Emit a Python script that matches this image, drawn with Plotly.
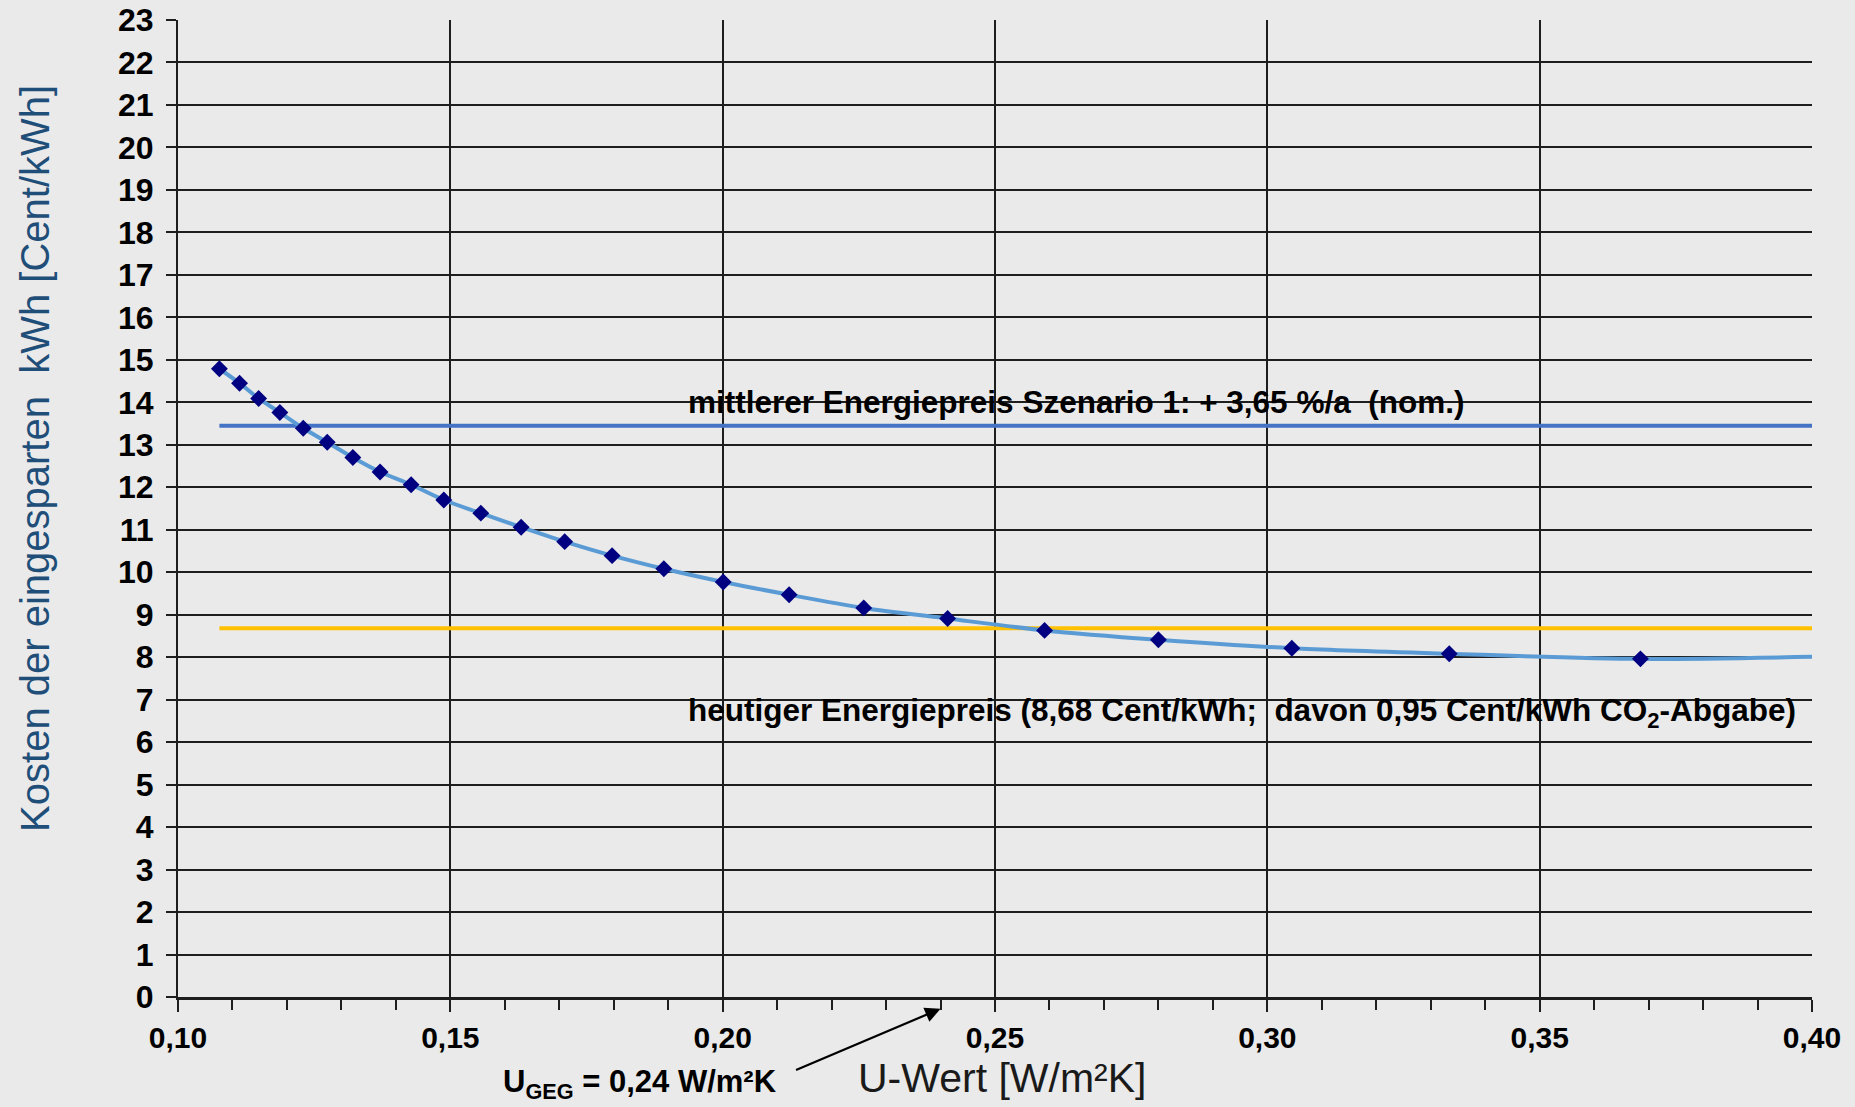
import plotly.graph_objects as go

# ---- data ----
u_values = [0.1076, 0.1113, 0.1148, 0.1187, 0.1230, 0.1274, 0.1321, 0.1371,
            0.1428, 0.1488, 0.1556, 0.1630, 0.1710, 0.1797, 0.1892, 0.2001,
            0.2122, 0.2259, 0.2413, 0.2591, 0.2800, 0.3045, 0.3334, 0.3685, 0.4120]
costs = [14.79, 14.45, 14.09, 13.76, 13.39, 13.06, 12.70, 12.36,
         12.06, 11.70, 11.39, 11.06, 10.72, 10.39, 10.08, 9.77,
         9.47, 9.16, 8.91, 8.63, 8.41, 8.21, 8.08, 7.96, 8.04]
ref_x = [0.1076, 0.40]
price_avg = 13.45     # mittlerer Energiepreis Szenario 1
price_today = 8.68    # heutiger Energiepreis
u_geg = 0.24

y_ticks = list(range(0, 24))
x_ticks = [0.10, 0.15, 0.20, 0.25, 0.30, 0.35, 0.40]
x_ticklabels = ["0,10", "0,15", "0,20", "0,25", "0,30", "0,35", "0,40"]

BG = "#EAEAEA"
FONT = "Liberation Sans, Arial, sans-serif"

fig = go.Figure()

fig.add_trace(go.Scatter(x=ref_x, y=[price_avg, price_avg], mode="lines",
                         line=dict(color="#4472C4", width=4), hoverinfo="skip"))
fig.add_trace(go.Scatter(x=ref_x, y=[price_today, price_today], mode="lines",
                         line=dict(color="#FFC000", width=4), hoverinfo="skip"))
fig.add_trace(go.Scatter(x=u_values, y=costs, mode="lines+markers",
                         line=dict(color="#5B9BD5", width=4, shape="spline", smoothing=0.8),
                         marker=dict(symbol="diamond", size=13, color="#000080")))

fig.update_layout(
    width=1855, height=1107,
    paper_bgcolor=BG, plot_bgcolor=BG,
    margin=dict(l=178, r=43, t=20, b=110),
    showlegend=False,
    font=dict(family=FONT, color="#000000"),
    separators=",.",
)

fig.update_xaxes(
    range=[0.10, 0.40], tickvals=x_ticks, ticktext=x_ticklabels,
    showgrid=True, gridcolor="#1E1E1E", gridwidth=1.5,
    showline=True, linecolor="#1E1E1E", linewidth=2.5, mirror=False,
    ticks="outside", ticklen=12, tickwidth=2, tickcolor="#1E1E1E",
    minor=dict(dtick=0.01, tick0=0.10, ticks="outside", ticklen=10, tickwidth=2,
               tickcolor="#1E1E1E", showgrid=False),
    tickfont=dict(family=FONT, size=30, color="#000000", weight="bold"),
    ticklabelstandoff=0,
    zeroline=False, automargin=False,
)
fig.update_yaxes(
    range=[0, 23], tickvals=y_ticks,
    showgrid=True, gridcolor="#1E1E1E", gridwidth=1.5,
    showline=True, linecolor="#1E1E1E", linewidth=2, mirror=False,
    ticks="outside", ticklen=10, tickwidth=1.5, tickcolor="#1E1E1E",
    tickfont=dict(family=FONT, size=32, color="#000000", weight="bold"),
    ticklabelstandoff=6,
    zeroline=False, automargin=False,
)

annotations = [
    dict(text="Kosten der eingesparten  kWh [Cent/kWh]", xref="paper", yref="paper",
         x=-0.088, y=0.551, xanchor="center", yanchor="middle", textangle=-90,
         showarrow=False, font=dict(family=FONT, size=40, color="#1F4E79")),
    dict(text="U-Wert [W/m²K]", xref="paper", yref="paper",
         x=0.504, y=-0.083, xanchor="center", yanchor="middle",
         showarrow=False, font=dict(family=FONT, size=41, color="#1A1A1A")),
    dict(text="mittlerer Energiepreis Szenario 1: + 3,65 %/a  (nom.)",
         xref="x", yref="y", x=0.1933, y=14.0, xanchor="left", yanchor="middle",
         showarrow=False, font=dict(family=FONT, size=31.5, color="#000000", weight="bold")),
    dict(text="heutiger Energiepreis (8,68 Cent/kWh;  davon 0,95 Cent/kWh CO<sub>2</sub>-Abgabe)",
         xref="x", yref="y", x=0.1932, y=6.70, xanchor="left", yanchor="middle",
         showarrow=False, font=dict(family=FONT, size=31.5, color="#000000", weight="bold")),
    dict(text="U<sub>GEG</sub> = 0,24 W/m²K", xref="paper", yref="paper",
         x=0.283, y=-0.089, xanchor="center", yanchor="middle",
         showarrow=False, font=dict(family=FONT, size=31, color="#000000", weight="bold")),
    dict(text="", xref="x", yref="paper", x=u_geg, y=-0.012,
         showarrow=True, ax=-146, ay=62, axref="pixel", ayref="pixel",
         arrowhead=2, arrowsize=1.4, arrowwidth=2.2, arrowcolor="#000000"),
]
fig.update_layout(annotations=annotations)

fig.write_html("out.html",
               config={"displayModeBar": False},
               post_script="document.body.style.margin='0px';"
                           "document.body.style.background='#EAEAEA';")
